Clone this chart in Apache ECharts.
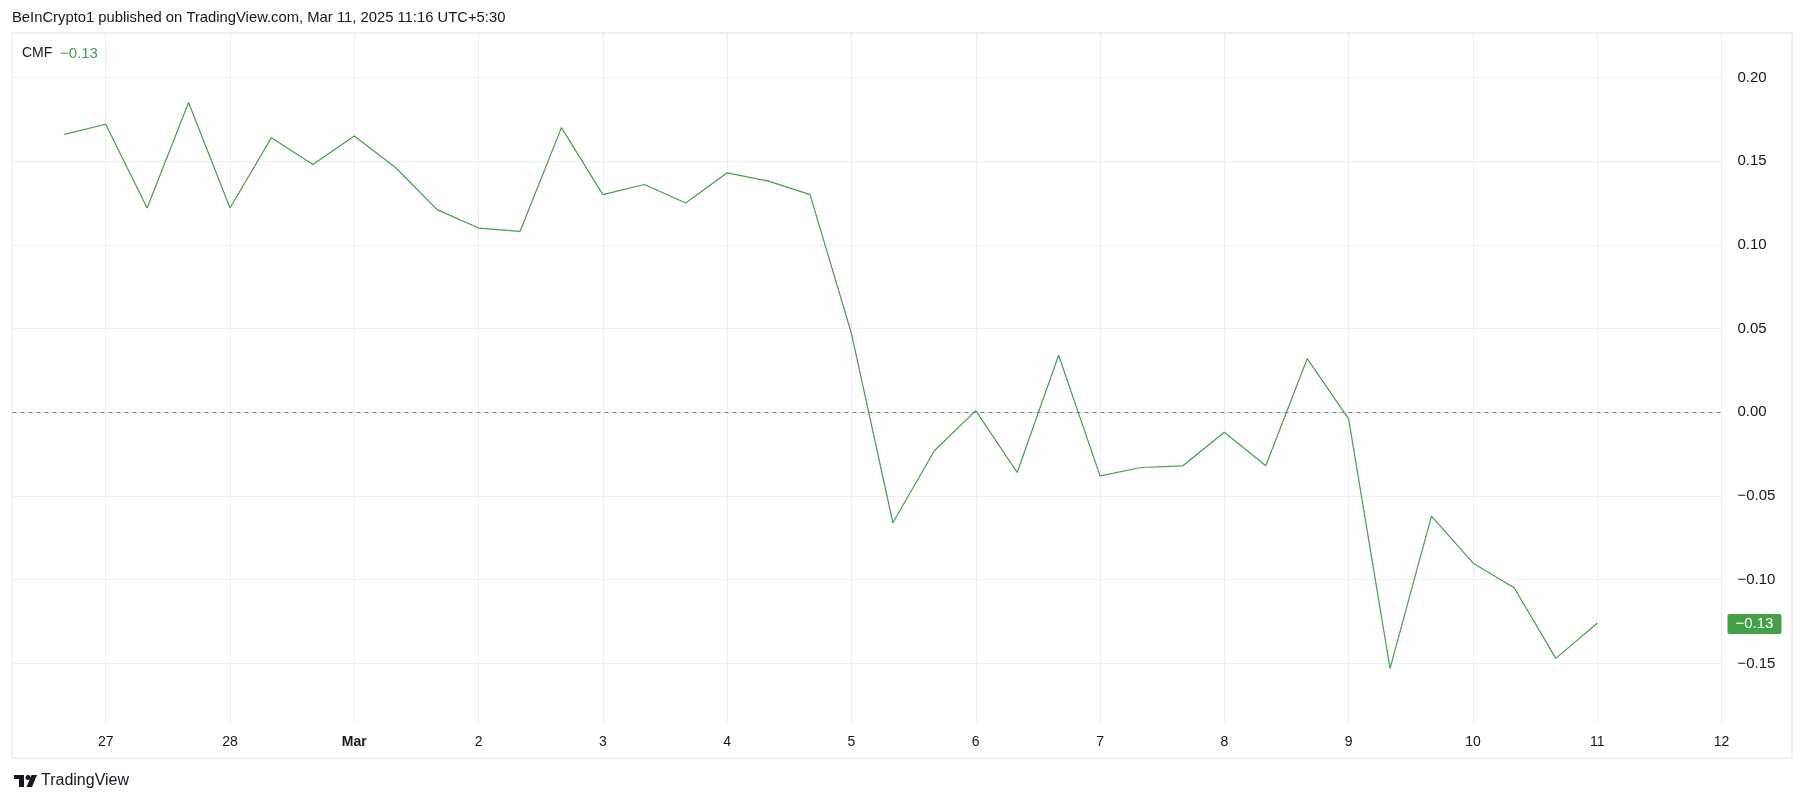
<!DOCTYPE html>
<html><head><meta charset="utf-8">
<script src="https://cdn.jsdelivr.net/npm/echarts@6/dist/echarts.min.js"></script>
<style>html,body{margin:0;padding:0;background:#fff;}#c{width:1805px;height:803px;}</style>
</head><body><div id="c"></div>
<script>
// CMF values, 8-hour bars starting Feb 26 16:00
const cmfValues = [0.166, 0.172, 0.122, 0.185, 0.122, 0.164, 0.148, 0.165, 0.146, 0.121, 0.110, 0.108,
  0.170, 0.130, 0.136, 0.125, 0.143, 0.138, 0.130,
  0.047, -0.066, -0.023, 0.001, -0.036, 0.034, -0.038, -0.033, -0.032, -0.012, -0.032, 0.032,
  -0.004, -0.153, -0.062, -0.090, -0.105, -0.147, -0.126];
const firstBarDay = -1 / 3;   // Feb 26 16:00, in days relative to Feb 27 00:00
const barStepDays = 1 / 3;    // 8h bars
const xTickValues = [0, 1, 2, 3, 4, 5, 6, 7, 8, 9, 10, 11, 12, 13];
const xTickLabels = ['27', '28', 'Mar', '2', '3', '4', '5', '6', '7', '8', '9', '10', '11', '12'];
const yTickValues = [-0.15, -0.10, -0.05, 0, 0.05, 0.10, 0.15, 0.20];
const headerText = 'BeInCrypto1 published on TradingView.com, Mar 11, 2025 11:16 UTC+5:30';
const seriesName = 'CMF';

const GREEN = '#43a047';
const TEXT = '#131722';
const GRIDC = '#efeff2';
const FONT = '"Liberation Sans", Arial, sans-serif';
const fmt = v => (v < 0 ? '\u2212' : '') + Math.abs(v).toFixed(2);

const data = cmfValues.map((v, i) => [firstBarDay + i * barStepDays, v]);
const lastVal = cmfValues[cmfValues.length - 1];

const chart = echarts.init(document.getElementById('c'), null, {renderer: 'canvas'});
chart.setOption({
  animation: false,
  backgroundColor: '#ffffff',
  textStyle: {fontFamily: FONT},
  grid: {left: 12.5, right: 83.5, top: 33, bottom: 80, containLabel: false},
  xAxis: {
    type: 'value', min: -0.75, max: 13,
    axisLine: {show: false},
    axisTick: {show: false, customValues: xTickValues},
    splitLine: {show: true, lineStyle: {color: GRIDC, width: 1}},
    axisLabel: {
      customValues: xTickValues, margin: 12, fontSize: 14, color: TEXT, fontFamily: FONT,
      formatter: v => { const l = xTickLabels[Math.round(v)]; return l === 'Mar' ? '{b|Mar}' : l; },
      rich: {b: {fontWeight: 'bold', fontSize: 14, color: TEXT, fontFamily: FONT}}
    }
  },
  yAxis: {
    type: 'value', position: 'right', min: -0.1856, max: 0.2265,
    axisLine: {show: false},
    axisTick: {show: false, customValues: yTickValues},
    splitLine: {show: true, lineStyle: {color: GRIDC, width: 1}},
    axisLabel: {customValues: yTickValues, margin: 16, fontSize: 15, color: TEXT, align: 'left', fontFamily: FONT,
      formatter: v => fmt(v)}
  },
  graphic: [
    {type: 'rect', z: -10, silent: true, shape: {x: 12, y: 33, width: 1780, height: 725},
     style: {fill: 'none', stroke: '#ededed', lineWidth: 1.5}},
    {type: 'text', left: 12, top: 10, style: {text: headerText, fill: TEXT, font: '14.8px ' + FONT}},
    {type: 'text', left: 22, top: 46.5, style: {text: seriesName, fill: TEXT, font: '14px ' + FONT}},
    {type: 'text', left: 60, top: 46, style: {text: fmt(lastVal), fill: GREEN, font: '15px ' + FONT}},
    {type: 'rect', silent: true, shape: {x: 14, y: 775, width: 10, height: 4}, style: {fill: TEXT}},
    {type: 'rect', silent: true, shape: {x: 19, y: 775, width: 5, height: 12}, style: {fill: TEXT}},
    {type: 'circle', silent: true, shape: {cx: 28, cy: 777.5, r: 2.5}, style: {fill: TEXT}},
    {type: 'polygon', silent: true, shape: {points: [[31.5, 775], [37, 775], [32, 787], [26.5, 787]]}, style: {fill: TEXT}},
    {type: 'text', left: 41, top: 773, style: {text: 'TradingView', fill: TEXT, font: '16px ' + FONT}}
  ],
  series: [{
    name: seriesName, type: 'line', data: data, showSymbol: false, symbol: 'none',
    lineStyle: {color: GREEN, width: 1.2},
    markLine: {
      silent: true, symbol: ['none', 'none'], animation: false,
      data: [
        {yAxis: 0, lineStyle: {color: '#787b86', type: [4, 4], width: 1}, label: {show: false}},
        {yAxis: lastVal, lineStyle: {color: 'rgba(0,0,0,0)', width: 1},
         label: {show: true, position: 'end', distance: 6, offset: [0, -6], formatter: fmt(lastVal), color: '#ffffff',
           backgroundColor: GREEN, padding: [3, 8, 2, 8], borderRadius: 2, fontSize: 15, fontFamily: FONT}}
      ]
    }
  }]
});
</script></body></html>
